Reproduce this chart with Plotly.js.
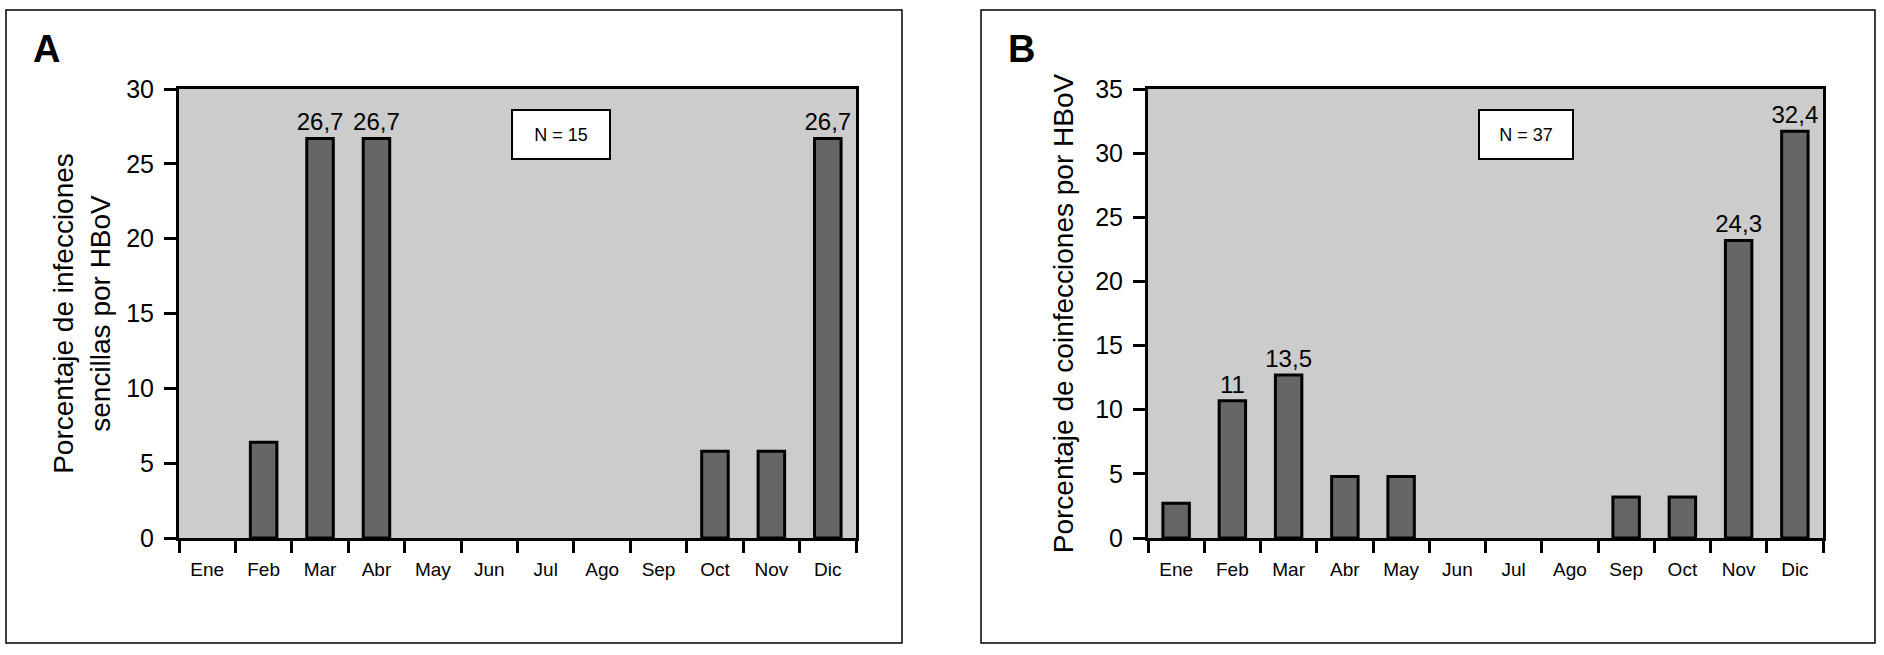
<!DOCTYPE html>
<html>
<head>
<meta charset="utf-8">
<script src="https://cdn.plot.ly/plotly-3.0.1.min.js"></script>
<style>html,body{margin:0;padding:0;background:#fff;}#chart{width:1884px;height:655px;}</style>
</head>
<body>
<div id="chart"></div>
<script>
const months = ['Ene','Feb','Mar','Abr','May','Jun','Jul','Ago','Sep','Oct','Nov','Dic'];
const seriesA = [0, 6.4, 26.7, 26.7, 0, 0, 0, 0, 0, 5.8, 5.8, 26.7];
const labelsA = ['', '', '26,7', '26,7', '', '', '', '', '', '', '', '26,7'];
const seriesB = [2.7, 10.7, 12.7, 4.8, 4.8, 0, 0, 0, 3.2, 3.2, 23.2, 31.7];
const labelsB = ['', '11', '13,5', '', '', '', '', '', '', '', '24,3', '32,4'];
const titleA = 'Porcentaje de infecciones<br>sencillas por HBoV';
const titleB = 'Porcentaje de coinfecciones por HBoV';
const nA = 'N = 15';
const nB = 'N = 37';

const W = 1884, H = 655;
const px = x => x / W;
const py = y => 1 - y / H;
const FONT = 'Liberation Sans, Arial, Helvetica, sans-serif';

function barTrace(values, labels, xa, ya) {
  return {
    type: 'bar', x: months, y: values, text: labels, xaxis: xa, yaxis: ya,
    marker: {color: '#666666', line: {color: '#000000', width: values.map(v => v > 0 ? 3 : 0)}},
    textposition: 'outside', constraintext: 'none',
    textfont: {family: FONT, size: 24, color: '#000'},
    cliponaxis: false, hoverinfo: 'x+y', showlegend: false
  };
}

const traces = [
  barTrace(seriesA, labelsA, 'x', 'y'),
  barTrace(seriesB, labelsB, 'x2', 'y2')
];

const xCommon = {
  type: 'category',
  showline: true, linecolor: '#000', linewidth: 3, mirror: true,
  ticks: 'outside', tickson: 'boundaries', ticklen: 12, tickwidth: 3, tickcolor: '#000',
  tickfont: {family: FONT, size: 19, color: '#000'},
  ticklabelstandoff: 12,
  showgrid: false, zeroline: false, automargin: false, fixedrange: true
};
const yCommon = {
  showline: true, linecolor: '#000', linewidth: 3, mirror: true,
  ticks: 'outside', ticklen: 12, tickwidth: 3, tickcolor: '#000',
  tickfont: {family: FONT, size: 25, color: '#000'},
  ticklabelstandoff: 5,
  showgrid: false, zeroline: false, automargin: false, fixedrange: true,
  dtick: 5
};

const layout = {
  width: W, height: H,
  margin: {l: 0, r: 0, t: 0, b: 0},
  paper_bgcolor: '#ffffff',
  plot_bgcolor: '#cccccc',
  bargap: 0.53,
  font: {family: FONT, color: '#000'},
  xaxis: Object.assign({}, xCommon, {domain: [px(179), px(856)], anchor: 'y'}),
  yaxis: Object.assign({}, yCommon, {domain: [py(538), py(89)], range: [0, 30], anchor: 'x',
    title: {text: titleA, font: {family: FONT, size: 28, color: '#000'}, standoff: 8}}),
  xaxis2: Object.assign({}, xCommon, {domain: [px(1148), px(1823)], anchor: 'y2'}),
  yaxis2: Object.assign({}, yCommon, {domain: [py(538), py(89)], range: [0, 35], anchor: 'x2',
    title: {text: titleB, font: {family: FONT, size: 28, color: '#000'}, standoff: 14}}),
  shapes: [
    {type: 'rect', xref: 'paper', yref: 'paper', x0: px(6), x1: px(902), y0: py(643), y1: py(10),
     line: {color: '#000', width: 1.5}, fillcolor: 'rgba(0,0,0,0)', layer: 'below'},
    {type: 'rect', xref: 'paper', yref: 'paper', x0: px(981), x1: px(1875), y0: py(643), y1: py(10),
     line: {color: '#000', width: 1.5}, fillcolor: 'rgba(0,0,0,0)', layer: 'below'}
  ],
  annotations: [
    {xref: 'paper', yref: 'paper', x: px(31), y: py(49), xanchor: 'left', yanchor: 'middle',
     text: '<b>A</b>', showarrow: false, font: {family: FONT, size: 38, color: '#000'}},
    {xref: 'paper', yref: 'paper', x: px(1006), y: py(49), xanchor: 'left', yanchor: 'middle',
     text: '<b>B</b>', showarrow: false, font: {family: FONT, size: 38, color: '#000'}},
    {xref: 'paper', yref: 'paper', x: px(561), y: py(134.5), xanchor: 'center', yanchor: 'middle',
     text: nA, showarrow: false, font: {family: FONT, size: 18, color: '#000'},
     bgcolor: '#ffffff', bordercolor: '#000', borderwidth: 2, borderpad: 0, width: 96, height: 47},
    {xref: 'paper', yref: 'paper', x: px(1526), y: py(134.5), xanchor: 'center', yanchor: 'middle',
     text: nB, showarrow: false, font: {family: FONT, size: 18, color: '#000'},
     bgcolor: '#ffffff', bordercolor: '#000', borderwidth: 2, borderpad: 0, width: 92, height: 47}
  ]
};

Plotly.newPlot('chart', traces, layout, {displayModeBar: false, staticPlot: true});
</script>
</body>
</html>
